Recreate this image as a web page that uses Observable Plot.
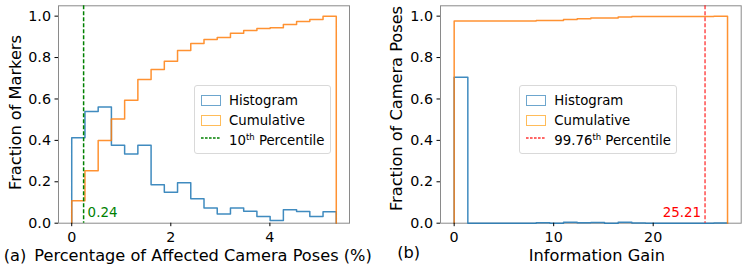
<!DOCTYPE html>
<html>
<head>
<meta charset="utf-8">
<script src="https://cdn.jsdelivr.net/npm/d3@7"></script>
<script src="https://cdn.jsdelivr.net/npm/@observablehq/plot@0.6"></script>
<style>
  html, body { margin: 0; padding: 0; background: #fff; }
  body { width: 747px; height: 270px; position: relative; overflow: hidden; font-family: "DejaVu Sans", sans-serif; }
  .panel { position: absolute; top: 0; height: 270px; }
  .legend { position: absolute; border: 1px solid #d9d9d9; border-radius: 3px; background: rgba(255,255,255,0.85); box-sizing: border-box; }
  .item { position: absolute; font-size: 13.3px; line-height: 16px; height: 16px; white-space: nowrap; color: #000; }
  .patch { position: absolute; box-sizing: border-box; width: 20px; height: 10.5px; border-width: 1.5px; border-style: solid; }
  .item sup { font-size: 8.5px; vertical-align: 0; position: relative; top: -5px; }
</style>
</head>
<body>
<div id="a" class="panel" style="left:0;width:380px"></div>
<div id="b" class="panel" style="left:380px;width:367px"></div>
<script>
// ---------- data ----------
// Panel (a): percentage of affected camera poses
const binsA = [0, 5.34];               // histogram range, 20 equal bins
const histA = [0.413, 0.540, 0.561, 0.377, 0.334, 0.377, 0.186, 0.150, 0.195, 0.118,
               0.074, 0.045, 0.074, 0.058, 0.032, 0.013, 0.065, 0.056, 0.032, 0.055];
const cumA  = [0.108, 0.253, 0.400, 0.503, 0.594, 0.694, 0.742, 0.782, 0.834, 0.868,
               0.887, 0.897, 0.918, 0.931, 0.940, 0.944, 0.960, 0.974, 0.984, 1.000];
const pctA = [0.24];
const pctLabelA = ["0.24"];
const xTicksA = [0, 2, 4];

// Panel (b): information gain
const binsB = [0, 27.47];
const histB = [0.705, 0, 0, 0, 0, 0, 0.002, 0, 0.004, 0.002,
               0.003, 0, 0.004, 0.0015, 0, 0, 0, 0, 0, 0.0015];
const cumB  = [0.976, 0.976, 0.976, 0.976, 0.976, 0.976, 0.979, 0.979, 0.984, 0.987,
               0.991, 0.991, 0.996, 0.998, 0.998, 0.998, 0.998, 0.998, 0.998, 1.000];
const pctB = [25.21];
const pctLabelB = ["25.21"];
const xTicksB = [0, 10, 20];

const yTicks = [0, 0.2, 0.4, 0.6, 0.8, 1.0];

// ---------- helpers ----------
function steps(values, range) {
  const [lo, hi] = range, n = values.length, w = (hi - lo) / n;
  const pts = [{x: lo, y: 0}];
  values.forEach((v, i) => pts.push({x: lo + i * w, y: v}));
  pts.push({x: hi, y: values[n - 1]});
  pts.push({x: hi, y: 0});
  return pts;
}
function pad(range) { const m = (range[1] - range[0]) * 0.05; return [range[0] - m, range[1] + m]; }

const BLUE = "#1f77b4", ORANGE = "#ff7f0e";
const FONT = "DejaVu Sans";

function panel({width, mL, mR, bins, hist, cum, pct, pctLabel, pctColor, pctDash, pctOpacity, xTicks, xLabel, yLabel, tag, labelDx, yLabelDx, yLabelDy, tagDx, tagDy, pctDx, pctAnchor}) {
  return Plot.plot({
    width, height: 270,
    marginLeft: mL, marginRight: mR, marginTop: 5.3, marginBottom: 47.3,
    style: {fontFamily: FONT, fontSize: "14.3px", color: "#000", background: "#fff", overflow: "visible"},
    x: {domain: pad(bins)},
    y: {domain: [0, 1.05]},
    marks: [
      Plot.frame({stroke: "#8a8a8a", strokeWidth: 1}),
      Plot.line(steps(hist, bins), {x: "x", y: "y", curve: "step-after", stroke: BLUE, strokeWidth: 1.5, strokeOpacity: 0.85}),
      Plot.line(steps(cum, bins), {x: "x", y: "y", curve: "step-after", stroke: ORANGE, strokeWidth: 1.5, strokeOpacity: 0.85}),
      Plot.ruleX(pct, {stroke: pctColor, strokeWidth: 1.5, strokeDasharray: pctDash, strokeOpacity: pctOpacity}),
      Plot.text(pct, {x: d => d, y: () => 0, text: (d, i) => pctLabel[i], textAnchor: pctAnchor, lineAnchor: "middle", dx: pctDx, dy: -10, fill: pctColor, fontSize: 13.4}),
      Plot.axisX({ticks: xTicks, tickSize: 3.5, tickPadding: 5.5, tickFormat: d3.format("d"), label: null, fontSize: 14.3}),
      Plot.axisY({ticks: yTicks, tickSize: 3.5, tickPadding: 4, tickFormat: d3.format(".1f"), label: null, fontSize: 14.3}),
      Plot.text([xLabel], {frameAnchor: "bottom", textAnchor: "middle", lineAnchor: "middle", dy: 33, dx: labelDx, fontSize: 16.2, fill: "#000"}),
      Plot.text([yLabel], {frameAnchor: "left", textAnchor: "middle", lineAnchor: "middle", rotate: -90, dx: yLabelDx, dy: yLabelDy, fontSize: 16.2, fill: "#000"}),
      Plot.text([tag], {frameAnchor: "bottom-left", textAnchor: "start", lineAnchor: "middle", dx: tagDx, dy: tagDy, fontSize: 16.2, fill: "#000"})
    ]
  });
}

document.getElementById("a").append(panel({
  width: 380, mL: 58, mR: 31, bins: binsA, hist: histA, cum: cumA,
  pct: pctA, pctLabel: pctLabelA, pctColor: "green", pctDash: "4,2", pctOpacity: 1,
  xTicks: xTicksA, xLabel: "Percentage of Affected Camera Poses (%)", yLabel: "Fraction of Markers",
  tag: "(a)", labelDx: -1, yLabelDx: -43, yLabelDy: -2, tagDx: -54.7, tagDy: 32.7, pctDx: 4, pctAnchor: "start"
}));
document.getElementById("b").append(panel({
  width: 367, mL: 60, mR: 6.3, bins: binsB, hist: histB, cum: cumB,
  pct: pctB, pctLabel: pctLabelB, pctColor: "red", pctDash: "4,2", pctOpacity: 0.7,
  xTicks: xTicksB, xLabel: "Information Gain", yLabel: "Fraction of Camera Poses",
  tag: "(b)", labelDx: 6, yLabelDx: -44, yLabelDy: -6, tagDx: -43.3, tagDy: 30.1, pctDx: -4, pctAnchor: "end"
}));

// ---------- legends (HTML overlay) ----------
function legend(container, left, width, pctText) {
  const box = document.createElement("div");
  box.className = "legend";
  Object.assign(box.style, {left: left + "px", top: "85px", width: width + "px", height: "69px"});
  const textLeft = 34;
  box.innerHTML = `
    <div class="patch" style="left:6px;top:9px;border-color:rgba(31,119,180,0.65)"></div>
    <div class="item" style="left:${textLeft}px;top:6.5px">Histogram</div>
    <div class="patch" style="left:6px;top:29px;border-color:rgba(255,160,20,0.7)"></div>
    <div class="item" style="left:${textLeft}px;top:26.5px">Cumulative</div>
    <svg style="position:absolute;left:6px;top:49px" width="20" height="6"><line x1="0" x2="20" y1="3" y2="3" stroke="${pctText.color}" stroke-opacity="${pctText.op}" stroke-width="1.3" stroke-dasharray="2.6,1.4"/></svg>
    <div class="item" style="left:${textLeft}px;top:47px">${pctText.num}<sup>th</sup> Percentile</div>`;
  document.getElementById(container).append(box);
}
legend("a", 194, 137, {num: "10", color: "green", op: 1});
legend("b", 139.3, 158, {num: "99.76", color: "red", op: 0.8});
</script>
</body>
</html>
